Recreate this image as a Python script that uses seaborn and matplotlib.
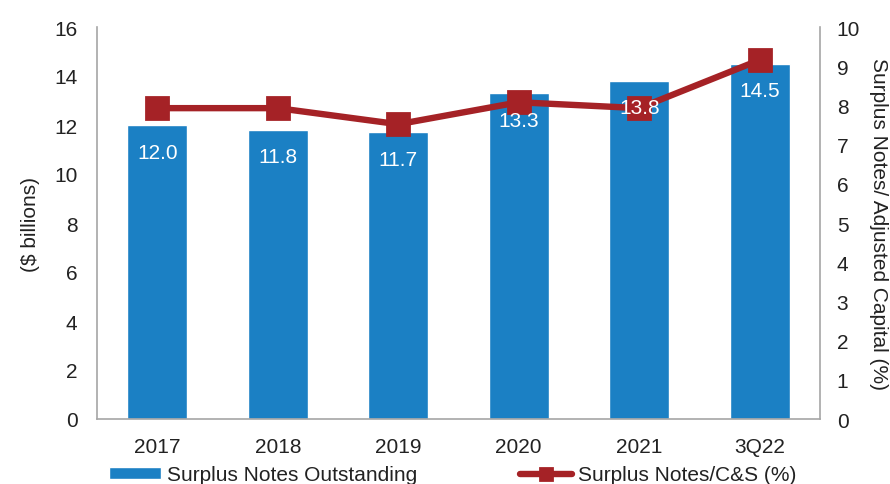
import matplotlib
matplotlib.use("Agg")
import matplotlib.pyplot as plt
import seaborn as sns
import numpy as np

categories = ["2017", "2018", "2019", "2020", "2021", "3Q22"]
notes_outstanding = [12.0, 11.8, 11.7, 13.3, 13.8, 14.5]
notes_to_cs = [7.93, 7.93, 7.52, 8.08, 7.93, 9.16]
bar_labels = ["12.0", "11.8", "11.7", "13.3", "13.8", "14.5"]
left_ticks = [0, 2, 4, 6, 8, 10, 12, 14, 16]
right_ticks = [0, 1, 2, 3, 4, 5, 6, 7, 8, 9, 10]

sns.set_style("white")
plt.rcParams["font.family"] = ["Liberation Sans", "DejaVu Sans"]
FS = 15
plt.rcParams["font.size"] = FS

BLUE = "#1B80C4"
RED = "#A52226"
GRAY = "#A6A6A6"
TXT = "#222222"

fig = plt.figure(figsize=(8.9, 4.85), dpi=100)
ax1 = fig.add_axes([97/890, 65/485, 723/890, 392/485])
ax2 = ax1.twinx()

sns.barplot(x=categories, y=notes_outstanding, ax=ax1, color=BLUE,
            width=0.5, saturation=1, label="Surplus Notes Outstanding")
sns.pointplot(x=categories, y=notes_to_cs, ax=ax2, color=RED, markers="s",
              errorbar=None, markersize=14, linewidth=4.6,
              label="Surplus Notes/C&S (%)")

ax1.set_xlim(-0.5, len(categories) - 0.5)
ax2.set_xlim(-0.5, len(categories) - 0.5)
ax1.set_ylim(0, 16)
ax2.set_ylim(0, 10)
ax1.set_yticks(left_ticks)
ax1.set_yticklabels([str(t) for t in left_ticks])
ax2.set_yticks(right_ticks)
ax2.set_yticklabels([str(t) for t in right_ticks])

for i, (v, lab) in enumerate(zip(notes_outstanding, bar_labels)):
    ax2.annotate(lab, xy=(i, v), xycoords=ax1.transData,
                 xytext=(0, -27), textcoords="offset pixels",
                 ha="center", va="center", color="white", fontsize=FS,
                 zorder=10)

for ax in (ax1, ax2):
    ax.tick_params(axis="both", length=0, colors=TXT, labelsize=FS)
    for s in ax.spines.values():
        s.set_color(GRAY)
        s.set_linewidth(1.2)
    ax.spines["top"].set_visible(False)
    ax.set_xlabel("")
ax1.tick_params(axis="y", pad=14)
ax2.tick_params(axis="y", pad=12)
ax1.tick_params(axis="x", pad=13)
ax1.spines["right"].set_visible(False)
ax2.spines["left"].set_visible(False)
ax2.spines["bottom"].set_visible(False)

ax1.set_ylabel("($ billions)", fontsize=FS, color=TXT, va="center")
ax1.yaxis.set_label_coords((30 - 97) / 723, 0.5)
ax2.set_ylabel("Surplus Notes/ Adjusted Capital (%)", fontsize=FS, color=TXT,
               rotation=270, va="center", ha="center")
ax2.yaxis.set_label_coords((878 - 97) / 723, 0.5)

h1, l1 = ax1.get_legend_handles_labels()
h2, l2 = ax2.get_legend_handles_labels()
for a in (ax1, ax2):
    if a.get_legend() is not None:
        a.get_legend().remove()
fig.legend(h1 + h2, l1 + l2, loc="center left",
           bbox_to_anchor=(109/890, 9/485), ncol=2, frameon=False,
           borderaxespad=0, borderpad=0, handlelength=2.5, handleheight=0.5,
           handletextpad=0.3, columnspacing=4.9, markerscale=0.55,
           fontsize=FS, labelcolor=TXT)

fig.savefig("out.png", dpi=100)
